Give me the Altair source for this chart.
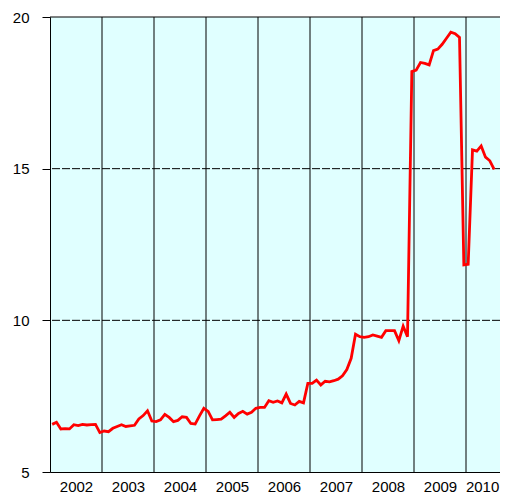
import altair as alt
import pandas as pd

# ---- data (monthly, Jan 2002 .. Jul 2010) ----
start_year = 2002
values = [
    6.57, 6.64, 6.42, 6.43, 6.42, 6.56, 6.53, 6.57, 6.55, 6.56, 6.57, 6.30,   # 2002
    6.35, 6.33, 6.44, 6.50, 6.56, 6.50, 6.52, 6.54, 6.75, 6.86, 7.02, 6.68,   # 2003
    6.66, 6.72, 6.90, 6.80, 6.66, 6.70, 6.82, 6.80, 6.60, 6.58, 6.85, 7.10,   # 2004
    7.00, 6.72, 6.73, 6.74, 6.85, 6.97, 6.80, 6.93, 7.00, 6.91, 6.97, 7.10,   # 2005
    7.13, 7.13, 7.35, 7.30, 7.34, 7.28, 7.57, 7.26, 7.21, 7.33, 7.28, 7.92,   # 2006
    7.92, 8.03, 7.87, 7.99, 7.97, 8.01, 8.06, 8.17, 8.38, 8.75, 9.54, 9.46,   # 2007
    9.44, 9.46, 9.52, 9.48, 9.44, 9.66, 9.66, 9.66, 9.33, 9.81, 9.46, 18.20,  # 2008
    18.25, 18.50, 18.47, 18.42, 18.89, 18.94, 19.10, 19.30, 19.50, 19.45, 19.33, 11.83,  # 2009
    11.85, 15.62, 15.58, 15.75, 15.38, 15.26, 14.98,                          # 2010
]
year_boundaries = [2003, 2004, 2005, 2006, 2007, 2008, 2009, 2010]
year_labels = [2002, 2003, 2004, 2005, 2006, 2007, 2008, 2009, 2010]
dashed_levels = [10, 15]
solid_levels = [20]
y_ticks = [5, 10, 15, 20]
x_domain = [2002, 2010.6538]
y_domain = [5, 20]

series = pd.DataFrame({
    "t": [start_year + (i + 0.5) / 12 for i in range(len(values))],
    "v": values,
})
# label anchors: mid-year, the last one pulled in so it stays inside the page
label_pos = [y + 0.5 for y in year_labels[:-1]] + [year_labels[-1] + 0.31]

xs = alt.Scale(domain=x_domain, nice=False, zero=False)
ys = alt.Scale(domain=y_domain, nice=False, zero=False)

font = "Liberation Sans"

x_axis = alt.Axis(values=label_pos, labelExpr="floor(datum.value)", ticks=False,
                  grid=False, domain=True, domainColor="black", domainWidth=1,
                  labelFont=font, labelFontSize=15, labelColor="black",
                  labelPadding=7, title=None, labelFlush=False)
y_axis = alt.Axis(values=y_ticks, ticks=True, tickSize=8, tickColor="black",
                  grid=False, domain=True, domainColor="black", domainWidth=1,
                  labelFont=font, labelFontSize=15, labelColor="black",
                  labelPadding=13, title=None)

vrules = alt.Chart(pd.DataFrame({"yr": year_boundaries})).mark_rule(
    color="black", strokeWidth=1
).encode(x=alt.X("yr:Q", scale=xs, axis=x_axis))

dashed = alt.Chart(pd.DataFrame({"lv": dashed_levels})).mark_rule(
    color="black", strokeWidth=1, strokeDash=[8, 2]
).encode(y=alt.Y("lv:Q", scale=ys, axis=y_axis))

solid = alt.Chart(pd.DataFrame({"lv": solid_levels})).mark_rule(
    color="black", strokeWidth=1
).encode(y=alt.Y("lv:Q", scale=ys))

line = alt.Chart(series).mark_line(color="#ff0000", strokeWidth=2.8).encode(
    x=alt.X("t:Q", scale=xs),
    y=alt.Y("v:Q", scale=ys),
)

chart = alt.layer(vrules, dashed, solid, line).properties(
    width=450, height=455,
    autosize=alt.AutoSizeParams(type="none"),
    padding={"left": 42, "top": 9, "right": 0, "bottom": 24},
    background="white",
).configure_view(fill="#E0FFFF", stroke=None)

chart.save("out.html", embed_options={"renderer": "svg", "actions": False})
